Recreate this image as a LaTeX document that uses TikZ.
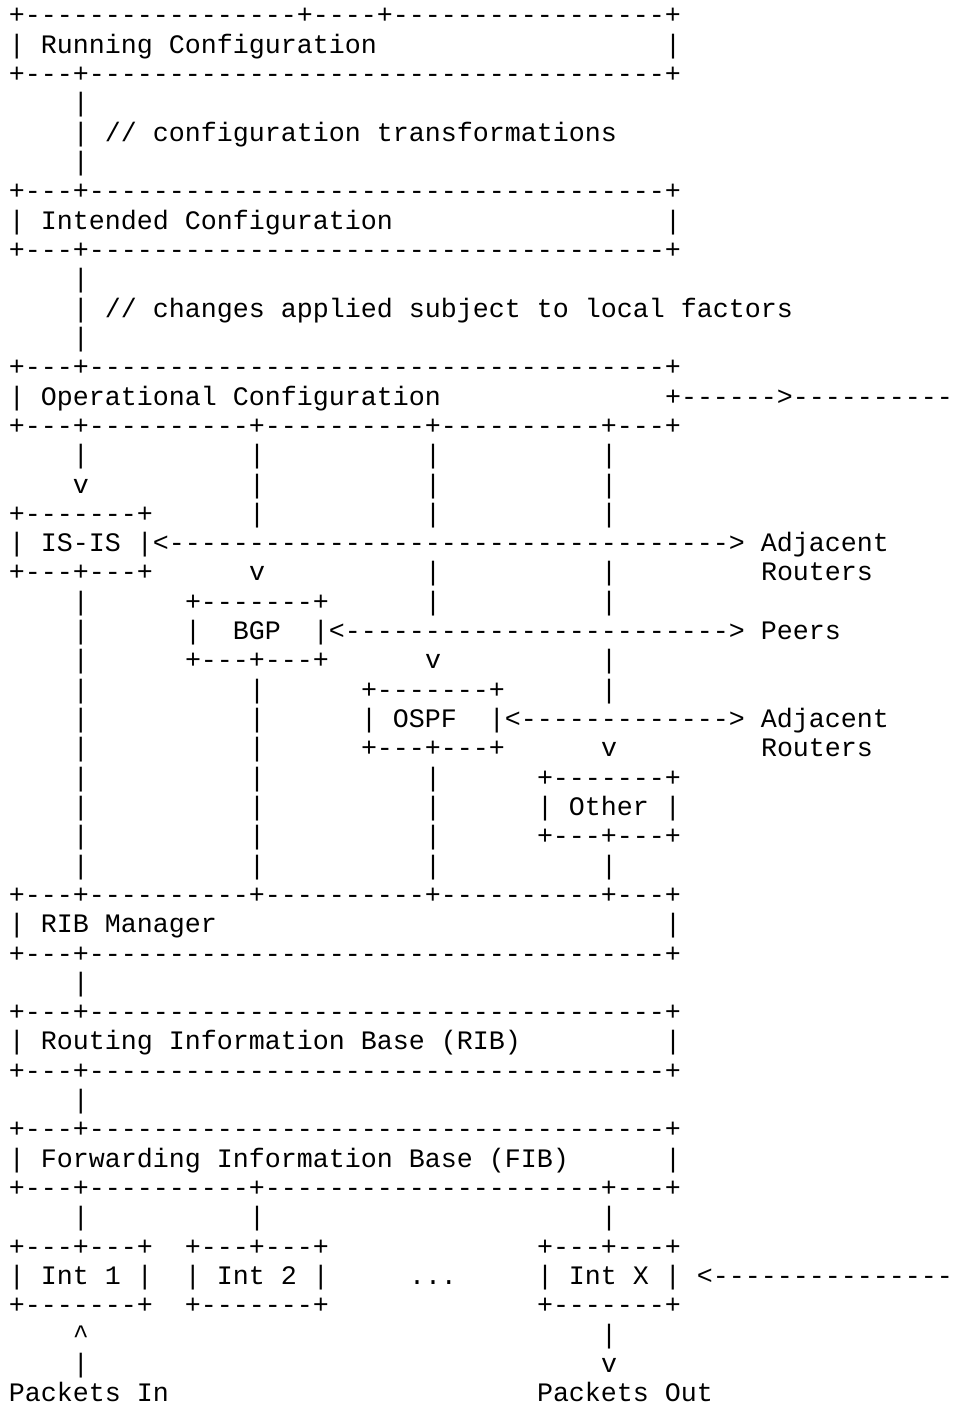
\documentclass[tikz,border=0pt]{standalone}
\usepackage{fontspec}
\setmonofont{Liberation Mono}
\frenchspacing

% runs of dashes and of blank character cells (one cell = 16pt)
\ExplSyntaxOn
\cs_new:Npn \dashrun #1 { \prg_replicate:nn {#1} {-} }
\ExplSyntaxOff
\newcommand\blankrun[1]{\kern\numexpr#1*16\relax pt\relax}

% one line of the character grid: name, row number, text
\newcommand\gridline[3]{\node[asc] (#1) at (9,{-24-29.3125*(#2)}) {#3};}

\begin{document}
\begin{tikzpicture}[x=1pt,y=1pt,
  asc/.style={anchor=base west, inner sep=0pt, outer sep=0pt, text=black,
    font=\ttfamily\fontsize{26.6626pt}{29.3125pt}\selectfont}]
\useasboundingbox (0,0) rectangle (960,-1407);

\gridline{r0}{0}{+\dashrun{17}+\dashrun{4}+\dashrun{17}+}
\gridline{running}{1}{| Running Configuration\blankrun{18}|}
\gridline{r2}{2}{+\dashrun{3}+\dashrun{36}+}
\gridline{r3}{3}{\blankrun{4}|}
\gridline{transform}{4}{\blankrun{4}| // configuration transformations}
\gridline{r5}{5}{\blankrun{4}|}
\gridline{r6}{6}{+\dashrun{3}+\dashrun{36}+}
\gridline{intended}{7}{| Intended Configuration\blankrun{17}|}
\gridline{r8}{8}{+\dashrun{3}+\dashrun{36}+}
\gridline{r9}{9}{\blankrun{4}|}
\gridline{changes}{10}{\blankrun{4}| // changes applied subject to local factors}
\gridline{r11}{11}{\blankrun{4}|}
\gridline{r12}{12}{+\dashrun{3}+\dashrun{36}+}
\gridline{operational}{13}{| Operational Configuration\blankrun{14}+\dashrun{6}>\dashrun{10}}
\gridline{r14}{14}{+\dashrun{3}+\dashrun{10}+\dashrun{10}+\dashrun{10}+\dashrun{3}+}
\gridline{r15}{15}{\blankrun{4}|\blankrun{10}|\blankrun{10}|\blankrun{10}|}
\gridline{r16}{16}{\blankrun{4}v\blankrun{10}|\blankrun{10}|\blankrun{10}|}
\gridline{r17}{17}{+\dashrun{7}+\blankrun{6}|\blankrun{10}|\blankrun{10}|}
\gridline{isis}{18}{| IS-IS |<\dashrun{35}> Adjacent}
\gridline{r19}{19}{+\dashrun{3}+\dashrun{3}+\blankrun{6}v\blankrun{10}|\blankrun{10}|\blankrun{9}Routers}
\gridline{r20}{20}{\blankrun{4}|\blankrun{6}+\dashrun{7}+\blankrun{6}|\blankrun{10}|}
\gridline{bgp}{21}{\blankrun{4}|\blankrun{6}|\blankrun{2}BGP\blankrun{2}|<\dashrun{24}> Peers}
\gridline{r22}{22}{\blankrun{4}|\blankrun{6}+\dashrun{3}+\dashrun{3}+\blankrun{6}v\blankrun{10}|}
\gridline{r23}{23}{\blankrun{4}|\blankrun{10}|\blankrun{6}+\dashrun{7}+\blankrun{6}|}
\gridline{ospf}{24}{\blankrun{4}|\blankrun{10}|\blankrun{6}| OSPF\blankrun{2}|<\dashrun{13}> Adjacent}
\gridline{r25}{25}{\blankrun{4}|\blankrun{10}|\blankrun{6}+\dashrun{3}+\dashrun{3}+\blankrun{6}v\blankrun{9}Routers}
\gridline{r26}{26}{\blankrun{4}|\blankrun{10}|\blankrun{10}|\blankrun{6}+\dashrun{7}+}
\gridline{other}{27}{\blankrun{4}|\blankrun{10}|\blankrun{10}|\blankrun{6}| Other |}
\gridline{r28}{28}{\blankrun{4}|\blankrun{10}|\blankrun{10}|\blankrun{6}+\dashrun{3}+\dashrun{3}+}
\gridline{r29}{29}{\blankrun{4}|\blankrun{10}|\blankrun{10}|\blankrun{10}|}
\gridline{r30}{30}{+\dashrun{3}+\dashrun{10}+\dashrun{10}+\dashrun{10}+\dashrun{3}+}
\gridline{ribmgr}{31}{| RIB Manager\blankrun{28}|}
\gridline{r32}{32}{+\dashrun{3}+\dashrun{36}+}
\gridline{r33}{33}{\blankrun{4}|}
\gridline{r34}{34}{+\dashrun{3}+\dashrun{36}+}
\gridline{rib}{35}{| Routing Information Base (RIB)\blankrun{9}|}
\gridline{r36}{36}{+\dashrun{3}+\dashrun{36}+}
\gridline{r37}{37}{\blankrun{4}|}
\gridline{r38}{38}{+\dashrun{3}+\dashrun{36}+}
\gridline{fib}{39}{| Forwarding Information Base (FIB)\blankrun{6}|}
\gridline{r40}{40}{+\dashrun{3}+\dashrun{10}+\dashrun{21}+\dashrun{3}+}
\gridline{r41}{41}{\blankrun{4}|\blankrun{10}|\blankrun{21}|}
\gridline{r42}{42}{+\dashrun{3}+\dashrun{3}+\blankrun{2}+\dashrun{3}+\dashrun{3}+\blankrun{13}+\dashrun{3}+\dashrun{3}+}
\gridline{ints}{43}{| Int 1 |\blankrun{2}| Int 2 |\blankrun{5}...\blankrun{5}| Int X |\blankrun{1}<\dashrun{15}}
\gridline{r44}{44}{+\dashrun{7}+\blankrun{2}+\dashrun{7}+\blankrun{13}+\dashrun{7}+}
\gridline{r45}{45}{\blankrun{4}\textasciicircum\blankrun{32}|}
\gridline{r46}{46}{\blankrun{4}|\blankrun{32}v}
\gridline{packets}{47}{Packets In\blankrun{23}Packets Out}
\end{tikzpicture}
\end{document}
